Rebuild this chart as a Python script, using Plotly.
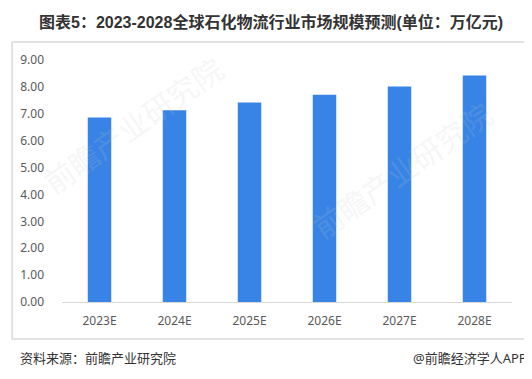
import plotly.graph_objects as go

categories = ["2023E", "2024E", "2025E", "2026E", "2027E", "2028E"]
values = [6.86, 7.13, 7.42, 7.71, 8.01, 8.42]
title_text = "图表5：2023-2028全球石化物流行业市场规模预测(单位：万亿元)"
source_text = "资料来源：前瞻产业研究院"
brand_text = "@前瞻经济学人APP"

# the page body has an 8px margin; work in window pixels and convert
OFF = 8
WIN_W, WIN_H = 532, 379
W, H = WIN_W - OFF, WIN_H - OFF
PL, PR, PT, PB = 52, 512, 60, 302  # plot area in window pixels
L, R, T, B = PL - OFF, W - (PR - OFF), PT - OFF, H - (PB - OFF)
pw, ph = W - L - R, H - T - B

def px_x(x):
    return (x - OFF - L) / pw

def px_y(y):
    return (H - B - (y - OFF)) / ph

FONT = "Noto Sans, Noto Sans CJK SC, sans-serif"

fig = go.Figure()
fig.add_trace(go.Bar(
    x=categories, y=values,
    marker=dict(color="#3784E6", line=dict(width=0)),
    hoverinfo="x+y",
))

fig.update_layout(
    width=W, height=H,
    margin=dict(l=L, r=R, t=T, b=B),
    paper_bgcolor="white", plot_bgcolor="white",
    bargap=0.687,
    showlegend=False,
    font=dict(family=FONT, size=12, color="#595959"),
    xaxis=dict(
        showgrid=False, showline=True, linecolor="#d9d9d9", linewidth=1,
        ticks="", tickfont=dict(size=12, color="#595959"), ticklabelstandoff=8,
        zeroline=False,
    ),
    yaxis=dict(
        range=[0, 9], dtick=1, tickformat=".2f", showgrid=False,
        showline=False, zeroline=False, ticks="",
        tickfont=dict(size=12, color="#595959"), ticklabelstandoff=17,
    ),
    shapes=[
        dict(type="rect", xref="paper", yref="paper",
             x0=px_x(1), x1=px_x(528), y0=px_y(339), y1=px_y(42),
             line=dict(color="#d9d9d9", width=1.5), fillcolor="rgba(0,0,0,0)",
             layer="below"),
    ],
    annotations=[
        dict(text="<b>" + title_text + "</b>", xref="paper", yref="paper",
             x=px_x(266), y=px_y(22), xanchor="center", yanchor="middle",
             showarrow=False,
             font=dict(size=16, color="#333333",
                       family="Liberation Sans, Noto Sans CJK SC, sans-serif")),
        dict(text=source_text, xref="paper", yref="paper",
             x=px_x(7), y=px_y(358), xanchor="left", yanchor="middle",
             showarrow=False, font=dict(size=13, color="#333333", family=FONT)),
        dict(text=brand_text, xref="paper", yref="paper",
             x=px_x(529), y=px_y(358), xanchor="right", yanchor="middle",
             showarrow=False, font=dict(size=13, color="#333333", family=FONT)),
        dict(text="前瞻产业研究院", xref="paper", yref="paper",
             x=px_x(125), y=px_y(125), xanchor="center", yanchor="middle",
             textangle=-35, showarrow=False,
             font=dict(size=30, color="rgba(200,200,200,0.18)", family=FONT)),
        dict(text="前瞻产业研究院", xref="paper", yref="paper",
             x=px_x(400), y=px_y(170), xanchor="center", yanchor="middle",
             textangle=-35, showarrow=False,
             font=dict(size=30, color="rgba(200,200,200,0.18)", family=FONT)),
    ],
)

fig.write_html("out.html")
